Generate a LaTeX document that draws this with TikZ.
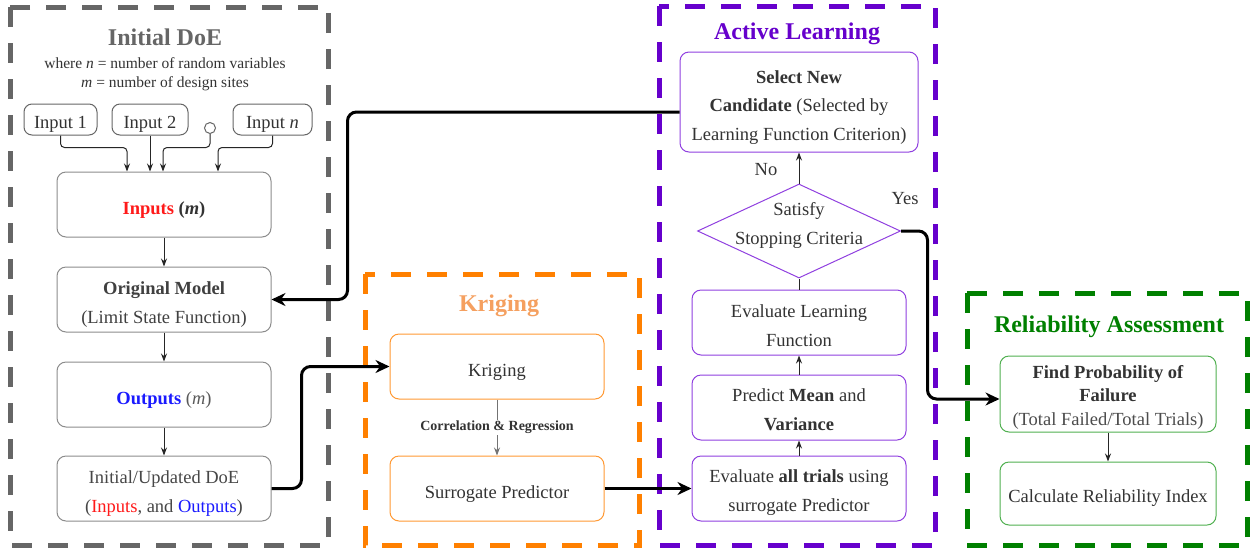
\documentclass[tikz,border=0pt]{standalone}
\usepackage{fontspec}
\setmainfont{Liberation Serif}
\usetikzlibrary{arrows.meta,shapes.geometric,calc}
\definecolor{fgray}{HTML}{666666}
\definecolor{forange}{HTML}{FF8000}
\definecolor{fpurple}{HTML}{6600CC}
\definecolor{fgreen}{HTML}{008000}
\definecolor{bgray}{HTML}{8C8C8C}
\definecolor{borange}{HTML}{FF9933}
\definecolor{bpurple}{HTML}{9040E0}
\definecolor{bgreen}{HTML}{50B050}
\definecolor{tdark}{HTML}{333333}
\definecolor{korange}{HTML}{F5A060}
\definecolor{myred}{HTML}{FF1A1A}
\definecolor{myblue}{HTML}{1A1AFF}
\newcommand{\lowr}[2][4pt]{\raisebox{-#1}[\height][\depth]{\begin{tabular}{@{}c@{}}#2\end{tabular}}}
\begin{document}
\begin{tikzpicture}[x=1pt,y=-1pt,
  frame/.style={line width=5pt,dash pattern=on 20pt off 16pt},
  box/.style={draw,rounded corners=9pt,line width=1pt,align=center,inner sep=0pt,
     text=tdark,font=\fontsize{18.5}{28.5}\selectfont},
  gbox/.style={box,draw=bgray,minimum width=214pt,minimum height=65pt},
  obox/.style={box,draw=borange,minimum width=214pt,minimum height=65pt},
  pbox/.style={box,draw=bpurple,minimum width=214pt,minimum height=65pt},
  grbox/.style={box,draw=bgreen,minimum width=216pt},
  inbox/.style={box,draw=fgray,rounded corners=8pt,minimum height=31pt},
  title/.style={font=\fontsize{24}{28}\selectfont\bfseries,anchor=base},
  thinarr/.style={line width=1pt,draw=black!85,-{Stealth[length=8pt,width=6pt]}},
  thickarr/.style={line width=3pt,rounded corners=9pt,-{Stealth[length=14pt,width=13pt]}}
]
\useasboundingbox[fill=white] (0,0) rectangle (1253,550);
% frames
\draw[frame,draw=fgray] (10,7) rectangle (328,545);
\draw[frame,draw=forange] (365,274) rectangle (639,545);
\draw[frame,draw=fpurple] (659,6) rectangle (935,545);
\draw[frame,draw=fgreen] (967,293) rectangle (1247,545);
% titles
\node[title,text=fgray] (t1) at (165,45) {Initial DoE};
\node[anchor=base,text=tdark,font=\fontsize{15.5}{18}\selectfont] (w1) at (165,68) {where \textit{n} = number of random variables};
\node[anchor=base,text=tdark,font=\fontsize{15.5}{18}\selectfont] (w2) at (165,87) {\textit{m} = number of design sites};
\node[title,text=korange] (t2) at (499,311) {Kriging};
\node[title,text=fpurple] (t3) at (797,39) {Active Learning};
\node[title,text=fgreen] (t4) at (1109,332) {Reliability Assessment};
% Initial DoE
\node[inbox,minimum width=73pt] (in1) at (60.5,119.5) {\lowr[3pt]{Input 1}};
\node[inbox,minimum width=76pt] (in2) at (150,119.5) {\lowr[3pt]{Input 2}};
\node[inbox,minimum width=79pt] (inn) at (272.5,119.5) {\lowr[3pt]{Input \textit{n}}};
\node[circle,draw=fgray,line width=1pt,minimum size=11pt,inner sep=0pt] (circ) at (210,128) {};
\node[gbox] (inputs) at (164,204.5) {\lowr{\textcolor{myred}{\textbf{Inputs}} \textbf{(\textit{m})}}};
\node[gbox,text=black!75] (orig) at (164,299.5) {\lowr{\textbf{Original Model}\\(Limit State Function)}};
\node[gbox] (outs) at (164,394.5) {\lowr{\textcolor{myblue}{\textbf{Outputs}} \textcolor{black!65}{(\textit{m})}}};
\node[gbox,text=black!72] (doe) at (164,488.5) {\lowr{Initial/Updated DoE\\(\textcolor{myred}{Inputs}, and \textcolor{myblue}{Outputs})}};
\draw[thinarr,rounded corners=4pt] (in1.south) |- ([xshift=-37pt,yshift=24pt]inputs.north) -- ([xshift=-37pt]inputs.north);
\draw[thinarr] (in2.south) -- (in2.south |- inputs.north);
\draw[thinarr,rounded corners=4pt] (circ.south) |- ([xshift=-1pt,yshift=24pt]inputs.north) -- ([xshift=-1pt]inputs.north);
\draw[thinarr,rounded corners=4pt] (inn.south) |- ([xshift=54pt,yshift=24pt]inputs.north) -- ([xshift=54pt]inputs.north);
\draw[thinarr] (inputs) -- (orig);
\draw[thinarr] (orig) -- (outs);
\draw[thinarr] (outs) -- (doe);
% Kriging
\node[obox] (krig) at (497,366.5) {\lowr{Kriging}};
\node[obox] (surr) at (497,488.5) {\lowr{Surrogate Predictor}};
\draw[line width=1pt,draw=black!55,-{Stealth[length=8pt,width=6pt]}] (krig) -- node[fill=white,inner sep=1pt,text=tdark,font=\fontsize{14}{16}\selectfont\bfseries] (lab) {Correlation \& Regression} (surr);
% Active learning
\node[pbox,minimum width=238pt,minimum height=100pt] (sel) at (799,102) {\lowr{\textbf{Select New}\\\textbf{Candidate} (Selected by\\Learning Function Criterion)}};
\node[diamond,draw=bpurple,line width=1pt,minimum width=203pt,minimum height=94pt,inner sep=0pt] (dia) at (799,231) {};
\node[align=center,text=tdark,font=\fontsize{18.5}{28.5}\selectfont] (diat) at (799,225.5) {Satisfy\\Stopping Criteria};
\node[pbox] (evl) at (799,322.5) {\lowr{Evaluate Learning\\Function}};
\node[pbox] (pred) at (799,407.5) {\lowr[3pt]{Predict \textbf{Mean} and\\\textbf{Variance}}};
\node[pbox] (evt) at (799,488.5) {\lowr[3pt]{Evaluate \textbf{all trials} using\\surrogate Predictor}};
\draw[thinarr] (evt) -- (pred);
\draw[thinarr] (pred) -- (evl);
\draw[line width=1pt,draw=black!85] (evl.north) -- (dia.south);
\draw[thinarr] (dia.north) -- (sel.south);
\node[text=tdark,font=\fontsize{18.5}{22}\selectfont] (no) at (766,170) {No};
\node[text=tdark,font=\fontsize{18.5}{22}\selectfont] (yes) at (905,199) {Yes};
% Reliability
\node[grbox,minimum height=76pt,font=\fontsize{18.5}{23.5}\selectfont] (find) at (1108,394) {\lowr[3pt]{\textbf{Find Probability of}\\\textbf{Failure}\\\textcolor{black!70}{(Total Failed/Total Trials)}}};
\node[grbox,minimum height=63pt] (calc) at (1108,493.5) {\lowr[3pt]{Calculate Reliability Index}};
\draw[thinarr] (find) -- (calc);
% thick connectors
\draw[thickarr] ([yshift=-10pt]sel.west) -| ([xshift=76pt]orig.east) -- (orig.east);
\draw[thickarr] (doe.east) -| ([xshift=-88pt]krig.west) -- (krig.west);
\draw[thickarr] (surr.east) -- (evt.west);
\draw[thickarr] (dia.east) -| ([xshift=-72pt,yshift=-5pt]find.west) -- ([yshift=-5pt]find.west);
\end{tikzpicture}
\end{document}
